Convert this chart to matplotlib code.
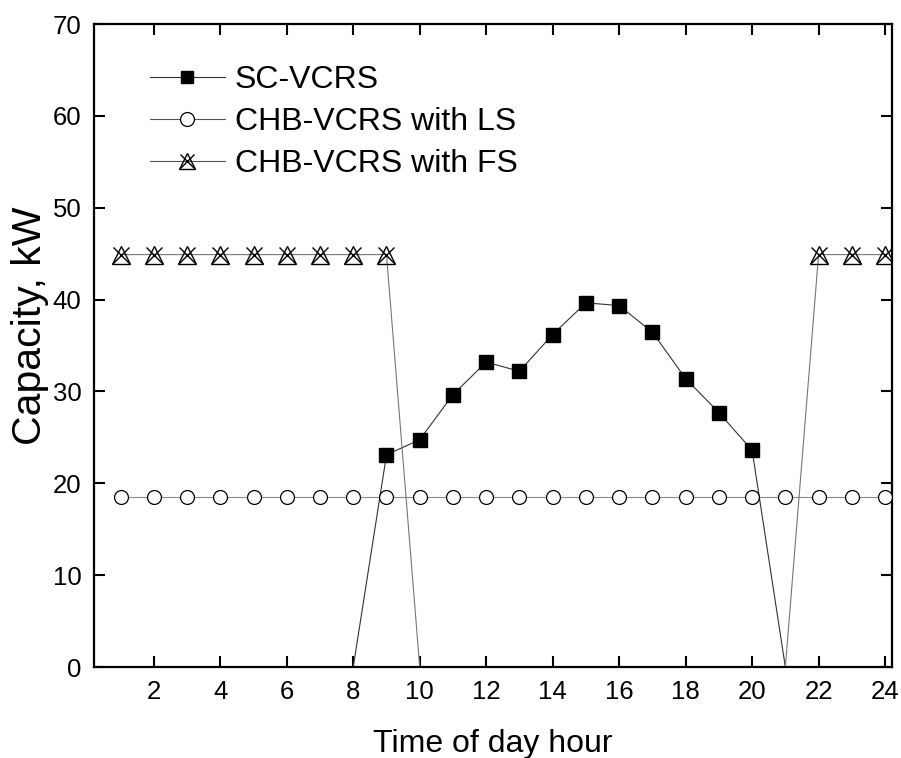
import numpy as np
import matplotlib.pyplot as plt

plt.rcParams['font.family'] = ['Liberation Sans', 'DejaVu Sans']

hours = np.arange(1, 25)
sc_vcrs = [0, 0, 0, 0, 0, 0, 0, 0, 23.1, 24.75, 29.65, 33.2, 32.2, 36.2,
           39.65, 39.35, 36.45, 31.4, 27.7, 23.6, 0, 0, 0, 0]
ls_vcrs = [18.5] * 24
fs_vcrs = [44.9] * 9 + [0] * 12 + [44.9] * 3

sc = np.array(sc_vcrs, dtype=float)
fs = np.array(fs_vcrs, dtype=float)
sc_m = np.where(sc > 0, sc, np.nan)
fs_m = np.where(fs > 0, fs, np.nan)

fig = plt.figure(figsize=(9.01, 7.58), dpi=100)
ax = fig.add_axes([0.1043, 0.12, 0.8854, 0.8483])

# lines (zero values run along the bottom axis)
ax.plot(hours, sc, '-', color='#333333', lw=0.8, zorder=2)
ax.plot(hours, ls_vcrs, '-', color='#888888', lw=0.8, zorder=2)
ax.plot(hours, fs, '-', color='#777777', lw=0.8, zorder=2)

# markers only where there is capacity
ax.plot(hours, sc_m, 's', color='black', ms=10, mec='black', zorder=3)
ax.plot(hours, ls_vcrs, 'o', mfc='white', mec='black', ms=10, mew=0.9, zorder=3)
ax.plot(hours, fs_m, '^', mfc='none', mec='black', ms=13, mew=1.0, zorder=3)
ax.plot(hours, fs_m, 'x', color='black', ms=12, mew=1.0, zorder=3)

# legend handles
h1, = ax.plot([], [], '-s', color='#333333', mfc='black', mec='black', ms=8, lw=0.8)
h2, = ax.plot([], [], '-o', color='#555555', mfc='white', mec='black', ms=10, mew=0.9, lw=0.8)
h3a, = ax.plot([], [], '-^', color='#555555', mfc='none', mec='black', ms=11.5, mew=1.0, lw=0.8)
h3b, = ax.plot([], [], 'x', color='black', ms=10.5, mew=1.0)
ax.legend([h1, h2, (h3a, h3b)],
          ['SC-VCRS', 'CHB-VCRS with LS', 'CHB-VCRS with FS'],
          loc='upper left', bbox_to_anchor=(0.07, 0.936), frameon=False,
          borderpad=0, borderaxespad=0,
          fontsize=23, handlelength=2.35, handletextpad=0.31, labelspacing=0.37,
          numpoints=1)

ax.set_xlim(0.2, 24.2)
ax.set_ylim(0, 70)
ax.set_xticks(np.arange(2, 25, 2))
ax.set_yticks(np.arange(0, 71, 10))
ax.tick_params(direction='in', length=8, width=1.5, labelsize=18.5,
               top=True, right=True, pad=9)
for s in ax.spines.values():
    s.set_linewidth(1.6)

ax.set_xlabel('Time of day hour', fontsize=23, labelpad=18)
ax.set_ylabel('Capacity, kW', fontsize=29.5)
ax.yaxis.set_label_coords(-0.057, 0.53)

fig.savefig('out.png', dpi=100)
